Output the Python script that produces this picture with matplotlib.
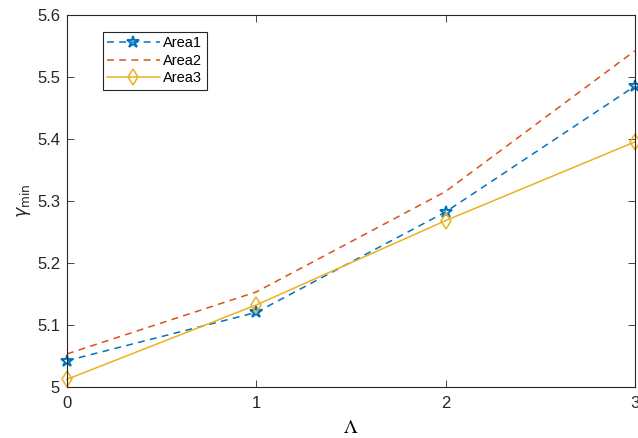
import matplotlib
matplotlib.use("Agg")
import matplotlib.pyplot as plt

plt.rcParams['font.family'] = ['Liberation Sans', 'DejaVu Sans']
plt.rcParams['mathtext.fontset'] = 'stix'

# data
lam = [0, 1, 2, 3]
area1 = [5.042, 5.120, 5.282, 5.485]
area2 = [5.053, 5.153, 5.315, 5.542]
area3 = [5.012, 5.132, 5.268, 5.395]

yticks = [5.0, 5.1, 5.2, 5.3, 5.4, 5.5, 5.6]
ytick_labels = ['5', '5.1', '5.2', '5.3', '5.4', '5.5', '5.6']

fig = plt.figure(figsize=(6.38, 4.38), dpi=100)
ax = fig.add_axes([0.105, 0.117, 0.89, 0.849])

ax.plot(lam, area1, color='#0072BD', lw=1.1, ls='--', dashes=(4.5, 3.5),
        marker='*', ms=9, mfc='none', mew=1.4, label='Area1', clip_on=False)
ax.plot(lam, area2, color='#D95319', lw=1.1, ls='--', dashes=(4.5, 3.5),
        label='Area2', clip_on=False)
ax.plot(lam, area3, color='#EDB120', lw=1.1, marker='d', ms=8, mfc='none',
        mew=1.1, label='Area3', clip_on=False)

ax.set_xlim(0, 3)
ax.set_ylim(5, 5.6)
ax.set_xticks(lam)
ax.set_yticks(yticks)
ax.set_yticklabels(ytick_labels)
ax.tick_params(direction='in', top=True, right=True, length=5, width=0.6,
               labelsize=12, colors='#262626')
ax.tick_params(axis='x', pad=7)
ax.tick_params(axis='y', pad=5)
for s in ax.spines.values():
    s.set_linewidth(0.8)
    s.set_color('#262626')

xl = ax.set_xlabel(r'$\Lambda$', fontsize=14, labelpad=6)
xl.set_math_fontfamily('stix')
yl = ax.set_ylabel(r'$\gamma_{\mathrm{min}}$', fontsize=12.5, labelpad=3,
                   color='#262626')
yl.set_math_fontfamily('dejavusans')

leg = ax.legend(loc='upper left', bbox_to_anchor=(0.063, 0.955), borderaxespad=0,
                fontsize=10.5, fancybox=False, edgecolor='#262626', framealpha=1,
                handlelength=3.6, handletextpad=0.25, labelspacing=0.25,
                borderpad=0.3)
leg.get_frame().set_linewidth(0.8)

fig.savefig('out.png', dpi=100)
